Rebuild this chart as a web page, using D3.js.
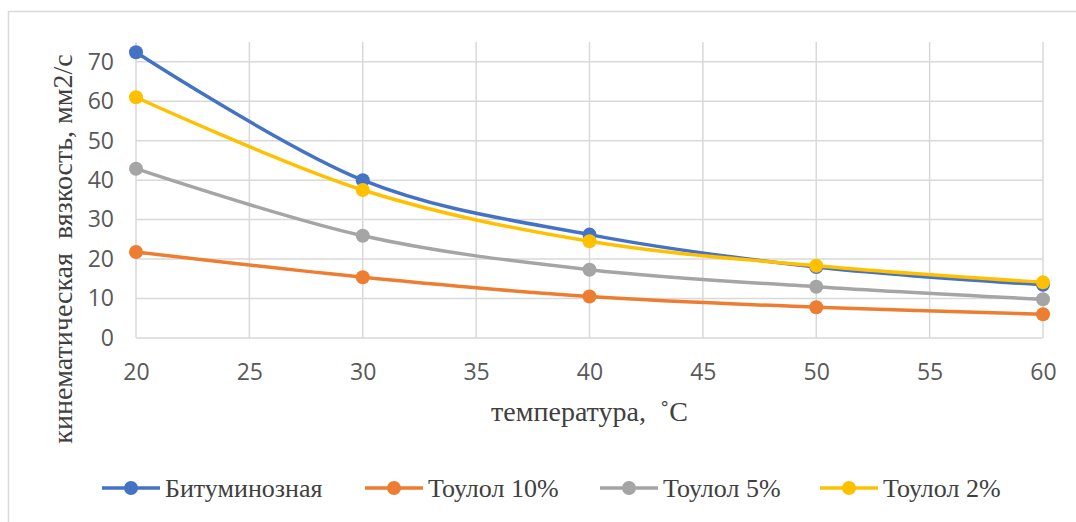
<!DOCTYPE html>
<html>
<head>
<meta charset="utf-8">
<script src="https://cdn.jsdelivr.net/npm/d3@7"></script>
<style>
  html, body { margin: 0; padding: 0; background: #fff; }
  svg { display: block; }
</style>
</head>
<body>
<svg id="chart" width="1076" height="522"></svg>
<script>
// Temperature points (°C)
const temperatures = [20, 30, 40, 50, 60];

// Kinematic viscosity, mm2/s
const bituminous = [72.4, 40.0, 26.2, 18.0, 13.5];
const toluene10 = [21.8, 15.4, 10.5, 7.8, 6.0];
const toluene5 = [42.9, 25.9, 17.3, 13.0, 9.8];
const toluene2 = [61.0, 37.5, 24.5, 18.3, 14.1];

const seriesNames = ["Битуминозная", "Тоулол 10%", "Тоулол 5%", "Тоулол 2%"];
const seriesColors = ["#4472c4", "#ed7d31", "#a5a5a5", "#ffc000"];

const xTicks = [20, 25, 30, 35, 40, 45, 50, 55, 60];
const yTicks = [0, 10, 20, 30, 40, 50, 60, 70];

const xTitle = "температура,  ˚С";
const yTitle = "кинематическая  вязкость, мм2/с";

const series = [bituminous, toluene10, toluene5, toluene2].map((vals, i) => ({
  name: seriesNames[i],
  color: seriesColors[i],
  points: temperatures.map((t, j) => ({ x: t, y: vals[j] }))
}));

const svg = d3.select("#chart");
const serif = "'Liberation Serif', 'Times New Roman', serif";

// chart frame
svg.append("rect")
  .attr("x", 8.5).attr("y", 11.5)
  .attr("width", 1076).attr("height", 520)
  .attr("fill", "#fff").attr("stroke", "#d9d9d9").attr("stroke-width", 1.5);

const plot = { left: 136, right: 1043, top: 42, bottom: 338 };

const x = d3.scaleLinear().domain([20, 60]).range([plot.left, plot.right]);
const y = d3.scaleLinear().domain([0, 75]).range([plot.bottom, plot.top]);

// gridlines
const grid = svg.append("g").attr("stroke", "#d9d9d9").attr("stroke-width", 1.5);
grid.selectAll("line.h").data(yTicks).join("line")
  .attr("x1", plot.left).attr("x2", plot.right)
  .attr("y1", d => y(d)).attr("y2", d => y(d));
grid.selectAll("line.v").data(xTicks).join("line")
  .attr("x1", d => x(d)).attr("x2", d => x(d))
  .attr("y1", plot.top).attr("y2", plot.bottom);

// axes (labels only; lines come from the grid)
const tickFont = "'Open Sans', 'Liberation Sans', sans-serif";
const yAxis = svg.append("g")
  .attr("transform", `translate(${plot.left},0)`)
  .call(d3.axisLeft(y).tickValues(yTicks).tickSize(0).tickPadding(22));
const xAxis = svg.append("g")
  .attr("transform", `translate(0,${plot.bottom})`)
  .call(d3.axisBottom(x).tickValues(xTicks).tickSize(0).tickPadding(26));
[xAxis, yAxis].forEach(g => {
  g.select(".domain").remove();
  g.selectAll("text")
    .attr("fill", "#595959")
    .style("font-family", tickFont)
    .style("font-size", "23px");
});

// axis titles
svg.append("text")
  .attr("x", (plot.left + plot.right) / 2).attr("y", 421)
  .attr("text-anchor", "middle")
  .attr("fill", "#404040")
  .style("font-family", serif)
  .style("font-size", "28px")
  .style("white-space", "pre")
  .text(xTitle);

svg.append("text")
  .attr("transform", "translate(72,249) rotate(-90)")
  .attr("text-anchor", "middle")
  .attr("fill", "#404040")
  .style("font-family", serif)
  .style("font-size", "28px")
  .style("white-space", "pre")
  .text(yTitle);

// smoothed series lines and markers
const line = d3.line()
  .x(d => x(d.x)).y(d => y(d.y))
  .curve(d3.curveCatmullRom.alpha(0));

const sg = svg.append("g").selectAll("g").data(series).join("g");
sg.append("path")
  .attr("d", d => line(d.points))
  .attr("fill", "none")
  .attr("stroke", d => d.color)
  .attr("stroke-width", 3.5)
  .attr("stroke-linecap", "round");
sg.selectAll("circle").data(d => d.points.map(p => ({ ...p, color: d.color }))).join("circle")
  .attr("cx", d => x(d.x)).attr("cy", d => y(d.y))
  .attr("r", 7)
  .attr("fill", d => d.color);

// legend
const legendX = [102, 365, 600, 820];
const legendY = 488;
const lg = svg.append("g").selectAll("g").data(series).join("g")
  .attr("transform", (d, i) => `translate(${legendX[i]},${legendY})`);
lg.append("line")
  .attr("x1", 0).attr("x2", 58)
  .attr("stroke", d => d.color).attr("stroke-width", 3.5);
lg.append("circle").attr("cx", 29).attr("r", 7).attr("fill", d => d.color);
lg.append("text")
  .attr("x", 63).attr("y", 9)
  .attr("fill", "#404040")
  .style("font-family", serif)
  .style("font-size", "26px")
  .text(d => d.name);
</script>
</body>
</html>
